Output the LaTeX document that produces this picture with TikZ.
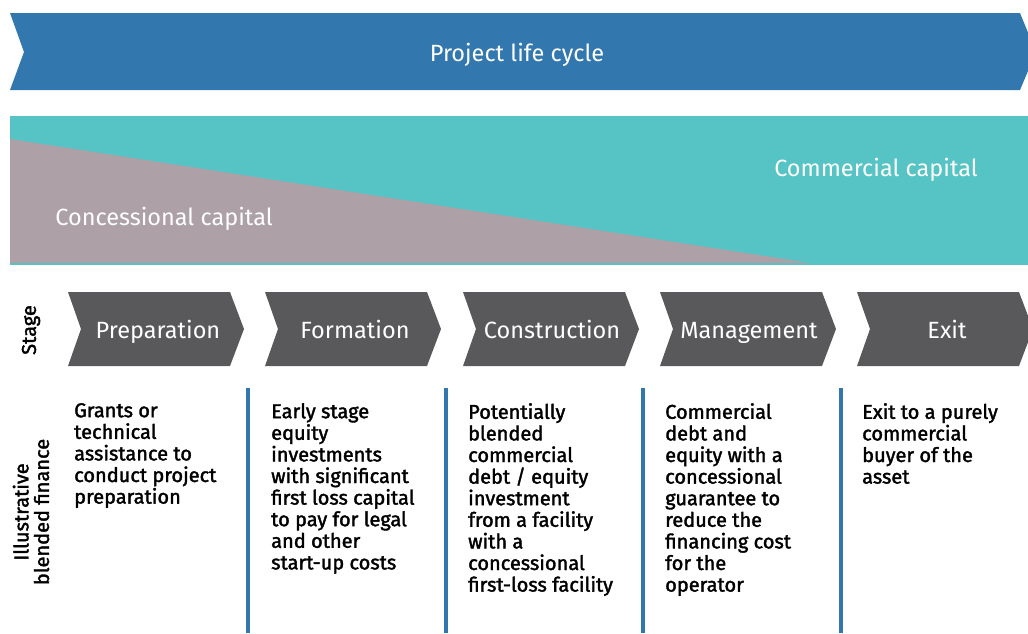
\documentclass[tikz,border=0pt]{standalone}
\usepackage{fontspec}
\setmainfont{Fira Sans}
\newfontfamily\bodyfont[FakeBold=1.8]{Fira Sans}
\definecolor{lifeblue}{HTML}{3278AF}
\definecolor{commteal}{HTML}{56C3C4}
\definecolor{concgray}{HTML}{ADA0A6}
\definecolor{stagegray}{HTML}{59595B}
\tikzset{
  whitelabel/.style={anchor=base,text=white,inner sep=0pt,font=\fontsize{23.5}{26}\selectfont},
  finance/.style={anchor=north west,align=left,inner sep=0pt,font=\bodyfont\fontsize{20}{21.6}\selectfont},
  sidelabel/.style={rotate=90,align=center,inner sep=0pt,font=\bodyfont\fontsize{20}{20.5}\selectfont},
  divider/.style={draw=lifeblue,line width=3.2pt},
  chevron/.style={fill=stagegray}
}
\begin{document}
\begin{tikzpicture}[x=1pt,y=-1pt]
\useasboundingbox (0,0) rectangle (1028,633);

% life cycle banner
\fill[lifeblue] (10,13) -- (1020,13) -- (1036,52) -- (1020,90) -- (10,90) -- (24,52) -- cycle;
\node[whitelabel] (cycle) at (517,61) {Project life cycle};

% capital shares
\fill[commteal] (10,116) rectangle (1028,265);
\fill[concgray] (10,139) -- (810,263) -- (10,263) -- cycle;
\node[whitelabel] (commercial) at (876,176) {Commercial capital};
\node[whitelabel] (concessional) at (164,225) {Concessional capital};

% stages
\node[sidelabel] (stage) at (31,330) {Stage};
\fill[chevron] (68,292) -- (230,292) -- (244,329) -- (230,366) -- (68,366) -- (81,329) -- cycle;
\fill[chevron] (265,292) -- (427,292) -- (441,329) -- (427,366) -- (265,366) -- (278,329) -- cycle;
\fill[chevron] (463,292) -- (625,292) -- (639,329) -- (625,366) -- (463,366) -- (476,329) -- cycle;
\fill[chevron] (660,292) -- (822,292) -- (836,329) -- (822,366) -- (660,366) -- (673,329) -- cycle;
\fill[chevron] (857,292) -- (1019,292) -- (1033,329) -- (1019,366) -- (857,366) -- (870,329) -- cycle;
\node[whitelabel] (prep) at (158,338) {Preparation};
\node[whitelabel] (form) at (355,338) {Formation};
\node[whitelabel] (constr) at (552,338) {Construction};
\node[whitelabel] (manage) at (749,338) {Management};
\node[whitelabel] (exit) at (947,338) {Exit};

% illustrative blended finance
\node[sidelabel] (blended) at (31,512) {Illustrative\\blended finance};
\draw[divider] (248,388) -- (248,633);
\draw[divider] (446,388) -- (446,633);
\draw[divider] (643,388) -- (643,633);
\draw[divider] (841,388) -- (841,633);

\node[finance] (fprep) at (74,403) {Grants or\\technical\\assistance to\\conduct project\\preparation};
\node[finance] (fform) at (271,403) {Early stage\\equity\\investments\\with significant\\first loss capital\\to pay for legal\\and other\\start-up costs};
\node[finance] (fconstr) at (468,403) {Potentially\\blended\\commercial\\debt / equity\\investment\\from a facility\\with a\\concessional\\first-loss facility};
\node[finance] (fmanage) at (665,403) {Commercial\\debt and\\equity with a\\concessional\\guarantee to\\reduce the\\financing cost\\for the\\operator};
\node[finance] (fexit) at (862,403) {Exit to a purely\\commercial\\buyer of the\\asset};
\end{tikzpicture}
\end{document}
